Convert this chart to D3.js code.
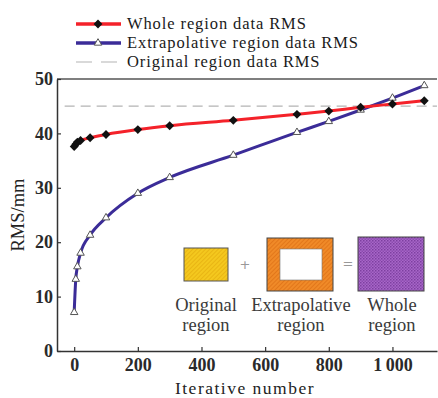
<!DOCTYPE html>
<html>
<head>
<meta charset="utf-8">
<script src="https://cdn.jsdelivr.net/npm/d3@7"></script>
<style>
  html, body { margin: 0; padding: 0; background: #fff; }
  svg { display: block; }
  text { font-family: "Liberation Serif", "DejaVu Serif", serif; fill: #222; }
</style>
</head>
<body>
<svg id="chart" width="438" height="398"></svg>
<script>
// iteration counts shared by both series
const iterations = [0, 5, 10, 20, 50, 100, 200, 300, 500, 700, 800, 900, 1000, 1100];
// RMS (mm) of whole region data
const wholeRms = [37.6, 38.0, 38.4, 38.7, 39.2, 39.8, 40.7, 41.4, 42.4, 43.5, 44.1, 44.8, 45.4, 46.0];
// RMS (mm) of extrapolative region data
const extraRms = [7.1, 13.2, 15.5, 18.0, 21.3, 24.5, 29.0, 31.9, 36.0, 40.2, 42.2, 44.3, 46.5, 48.8];
// RMS (mm) of original region data (constant reference)
const originalRms = 45;

const xTicks = [0, 200, 400, 600, 800, 1000];
const yTicks = [0, 10, 20, 30, 40, 50];
const legendLabels = ['Whole region data RMS', 'Extrapolative region data RMS', 'Original region data RMS'];
const insetLabels = [['Original', 'region'], ['Extrapolative', 'region'], ['Whole', 'region']];

const svg = d3.select('#chart');
const plot = { left: 57, right: 437, top: 79, bottom: 351 };

const x = d3.scaleLinear().domain([-54, 1140]).range([plot.left, plot.right]);
const y = d3.scaleLinear().domain([0, 50]).range([plot.bottom, plot.top]);

const red = '#f4222a';
const blue = '#3b2c98';

// patterns for the inset pictogram
const defs = svg.append('defs');
function hatch(id, bg, fg, size) {
  const p = defs.append('pattern').attr('id', id)
    .attr('patternUnits', 'userSpaceOnUse')
    .attr('width', size).attr('height', size)
    .attr('patternTransform', 'rotate(45)');
  p.append('rect').attr('width', size).attr('height', size).attr('fill', bg);
  p.append('line').attr('x1', 0).attr('y1', 0).attr('x2', 0).attr('y2', size)
    .attr('stroke', fg).attr('stroke-width', 1.2);
}
hatch('yellowHatch', '#f4c81e', '#e3a90c', 3);
hatch('orangeHatch', '#f08a28', '#d96a12', 3);
const dots = defs.append('pattern').attr('id', 'purpleDots')
  .attr('patternUnits', 'userSpaceOnUse').attr('width', 3).attr('height', 3);
dots.append('rect').attr('width', 3).attr('height', 3).attr('fill', '#a866c8');
dots.append('rect').attr('width', 1.5).attr('height', 1.5).attr('fill', '#7d3fa0');
dots.append('rect').attr('x', 1.5).attr('y', 1.5).attr('width', 1.5).attr('height', 1.5).attr('fill', '#8b4cae');

// frame: top border
svg.append('line')
  .attr('x1', plot.left).attr('x2', plot.right)
  .attr('y1', plot.top).attr('y2', plot.top)
  .attr('stroke', '#555').attr('stroke-width', 1.5);

// axes
const xAxis = svg.append('g')
  .attr('transform', `translate(0,${plot.bottom})`)
  .call(d3.axisBottom(x).tickValues(xTicks).tickSizeInner(-4).tickSizeOuter(0)
    .tickFormat(d => d === 1000 ? '1\u2009000' : d));
xAxis.select('.domain').attr('stroke', '#333').attr('stroke-width', 1.5);
xAxis.selectAll('.tick line').attr('stroke', '#333').attr('stroke-width', 1.2);
xAxis.selectAll('.tick text')
  .attr('y', 7).attr('dy', '0.71em')
  .style('font-family', '"Liberation Serif", serif')
  .style('font-size', '18px').style('font-weight', 'bold').style('fill', '#2a2a2a');

const yAxis = svg.append('g')
  .attr('transform', `translate(${plot.left},0)`)
  .call(d3.axisLeft(y).tickValues(yTicks).tickSizeInner(-4).tickSizeOuter(0));
yAxis.select('.domain').attr('stroke', '#333').attr('stroke-width', 1.5);
yAxis.selectAll('.tick line').attr('stroke', '#333').attr('stroke-width', 1.2);
yAxis.selectAll('.tick text')
  .attr('x', -4)
  .style('font-family', '"Liberation Serif", serif')
  .style('font-size', '18px').style('font-weight', 'bold').style('fill', '#2a2a2a');

// axis titles
svg.append('text')
  .attr('x', (plot.left + plot.right) / 2 - 2).attr('y', 394)
  .attr('text-anchor', 'middle')
  .style('font-size', '17.5px').style('letter-spacing', '1.5px')
  .text('Iterative number');

svg.append('text')
  .attr('transform', `translate(24,${(plot.top + plot.bottom) / 2}) rotate(-90)`)
  .attr('text-anchor', 'middle')
  .style('font-size', '18.5px')
  .text('RMS/mm');

// original region reference line
svg.append('line')
  .attr('x1', x(-30)).attr('x2', plot.right)
  .attr('y1', y(originalRms)).attr('y2', y(originalRms))
  .attr('stroke', '#b4b4b4').attr('stroke-width', 1.2)
  .attr('stroke-dasharray', '10,6');

// inset pictogram
const inset = svg.append('g');
inset.append('rect').attr('x', 184).attr('y', 248).attr('width', 44).attr('height', 33)
  .attr('fill', 'url(#yellowHatch)').attr('stroke', '#555').attr('stroke-width', 1);
inset.append('rect').attr('x', 267).attr('y', 238).attr('width', 66).attr('height', 53)
  .attr('fill', 'url(#orangeHatch)').attr('stroke', '#444').attr('stroke-width', 1);
inset.append('rect').attr('x', 280).attr('y', 249).attr('width', 42).attr('height', 31)
  .attr('fill', '#fff').attr('stroke', '#777').attr('stroke-width', 0.6);
inset.append('rect').attr('x', 358).attr('y', 237).attr('width', 66).attr('height', 54)
  .attr('fill', 'url(#purpleDots)').attr('stroke', '#444').attr('stroke-width', 1);
inset.append('text').attr('x', 245).attr('y', 269).attr('text-anchor', 'middle')
  .style('font-family', '"DejaVu Sans", sans-serif').style('font-size', '13px').style('fill', '#999').text('+');
inset.append('text').attr('x', 348).attr('y', 268).attr('text-anchor', 'middle')
  .style('font-family', '"DejaVu Sans", sans-serif').style('font-size', '13px').style('fill', '#999').text('=');
const labelX = [206, 301, 392];
insetLabels.forEach((lines, i) => {
  lines.forEach((t, j) => {
    inset.append('text')
      .attr('x', labelX[i]).attr('y', 311 + j * 20)
      .attr('text-anchor', 'middle')
      .style('font-size', '18.5px').style('fill', '#3a3a3a')
      .text(t);
  });
});

// series lines
const line = d3.line().curve(d3.curveMonotoneX)
  .x(d => x(d[0])).y(d => y(d[1]));

const extraPts = iterations.map((it, i) => [it, extraRms[i]]);
const wholePts = iterations.map((it, i) => [it, wholeRms[i]]);

svg.append('path').datum(extraPts).attr('d', line)
  .attr('fill', 'none').attr('stroke', blue).attr('stroke-width', 3);

svg.append('path').datum(wholePts).attr('d', line)
  .attr('fill', 'none').attr('stroke', red).attr('stroke-width', 3);

const diamond = d3.symbol().type(d3.symbolDiamond2).size(50);
const triangle = d3.symbol().type(d3.symbolTriangle2).size(40);

svg.selectAll('.tri').data(extraPts).enter().append('path')
  .attr('class', 'tri')
  .attr('transform', d => `translate(${x(d[0])},${y(d[1])})`)
  .attr('d', triangle)
  .attr('fill', '#fff').attr('stroke', '#555').attr('stroke-width', 1);

svg.selectAll('.dia').data(wholePts).enter().append('path')
  .attr('class', 'dia')
  .attr('transform', d => `translate(${x(d[0])},${y(d[1])})`)
  .attr('d', diamond)
  .attr('fill', '#111');

// legend
const legend = svg.append('g');
const rows = [24, 43, 62];
legend.append('line').attr('x1', 76).attr('x2', 121).attr('y1', rows[0]).attr('y2', rows[0])
  .attr('stroke', red).attr('stroke-width', 3.5);
legend.append('path').attr('transform', `translate(98,${rows[0]})`).attr('d', diamond).attr('fill', '#111');
legend.append('line').attr('x1', 76).attr('x2', 121).attr('y1', rows[1]).attr('y2', rows[1])
  .attr('stroke', blue).attr('stroke-width', 3.5);
legend.append('path').attr('transform', `translate(98,${rows[1]})`).attr('d', triangle)
  .attr('fill', '#fff').attr('stroke', '#555').attr('stroke-width', 1);
legend.append('line').attr('x1', 76).attr('x2', 121).attr('y1', rows[2]).attr('y2', rows[2])
  .attr('stroke', '#b4b4b4').attr('stroke-width', 1.2).attr('stroke-dasharray', '16,9');
legendLabels.forEach((t, i) => {
  legend.append('text')
    .attr('x', 127).attr('y', rows[i] + 5)
    .style('font-size', '16.5px').style('letter-spacing', '0.9px').style('fill', '#1a1a1a')
    .text(t);
});
</script>
</body>
</html>
